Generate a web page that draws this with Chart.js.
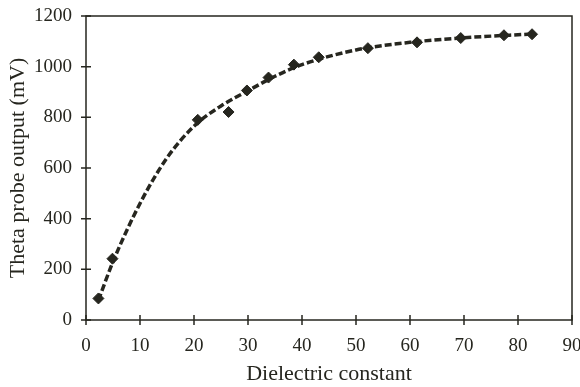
<!DOCTYPE html>
<html>
<head>
<meta charset="utf-8">
<script src="https://cdn.jsdelivr.net/npm/chart.js@4"></script>
<style>
  html, body { margin: 0; padding: 0; background: #fff; }
  #wrap { width: 580px; height: 387px; position: relative; }
</style>
</head>
<body>
<div id="wrap"><canvas id="chart"></canvas></div>
<script>
// measured points (dielectric constant, mV)
const pointX = [2.3, 4.9, 20.7, 26.4, 29.8, 33.8, 38.5, 43.1, 52.2, 61.3, 69.4, 77.4, 82.6];
const pointY = [85, 242, 790, 821, 906, 957, 1008, 1037, 1073, 1096, 1113, 1124, 1128];

// dashed fitted curve
const curveX = [2.3, 5, 10, 15, 20, 25, 30, 35, 40, 50, 60, 70, 80, 83];
const curveY = [78, 230, 460, 640, 765, 845, 905, 962, 1008, 1066, 1096, 1114, 1126, 1129];

const xTicks = [0, 10, 20, 30, 40, 50, 60, 70, 80, 90];

const ink = "#26261f";
const serif = "'Liberation Serif', 'DejaVu Serif', serif";

// ticks crossing both sides of the axes, plus frame
const crossTicks = {
  id: "crossTicks",
  afterDraw(chart) {
    const ctx = chart.ctx;
    const area = chart.chartArea;
    const xs = chart.scales.x, ys = chart.scales.y;
    ctx.save();
    ctx.strokeStyle = ink;
    ctx.lineWidth = 1.5;
    ctx.beginPath();
    xs.ticks.forEach(t => {
      const px = xs.getPixelForValue(t.value);
      ctx.moveTo(px, area.bottom - 5);
      ctx.lineTo(px, area.bottom + 5);
    });
    ys.ticks.forEach(t => {
      const py = ys.getPixelForValue(t.value);
      ctx.moveTo(area.left - 5, py);
      ctx.lineTo(area.left + 5, py);
    });
    ctx.stroke();
    ctx.strokeRect(area.left, area.top, area.right - area.left, area.bottom - area.top);
    ctx.restore();
  }
};

new Chart(document.getElementById("chart"), {
  type: "scatter",
  data: {
    datasets: [
      {
        type: "line",
        data: curveX.map((x, i) => ({ x: x, y: curveY[i] })),
        borderColor: ink,
        borderWidth: 3.5,
        borderDash: [7, 3],
        pointRadius: 0,
        cubicInterpolationMode: "monotone",
        fill: false,
      },
      {
        data: pointX.map((x, i) => ({ x: x, y: pointY[i] })),
        pointStyle: "rectRot",
        pointRadius: 5.5,
        backgroundColor: ink,
        borderColor: ink,
      }
    ]
  },
  options: {
    responsive: true,
    maintainAspectRatio: false,
    animation: false,
    layout: { padding: { top: 16, right: 8, left: 0, bottom: 0 } },
    plugins: { legend: { display: false }, tooltip: { enabled: false } },
    scales: {
      x: {
        type: "linear",
        min: 0,
        max: 90,
        afterBuildTicks: s => { s.ticks = xTicks.map(v => ({ value: v })); },
        afterFit: s => { s.height = 67; s.paddingLeft = 0; s.paddingRight = 0; },
        grid: { display: false, drawTicks: false },
        border: { display: false },
        ticks: { color: ink, font: { family: serif, size: 19 }, padding: 15, maxRotation: 0 },
        title: { display: true, text: "Dielectric constant", color: ink, font: { family: serif, size: 22 }, padding: { top: 0, bottom: 0 } }
      },
      y: {
        min: 0,
        max: 1200,
        afterFit: s => { s.width = 86; s.paddingTop = 0; s.paddingBottom = 0; },
        grid: { display: false, drawTicks: false },
        border: { display: false },
        ticks: {
          stepSize: 100,
          color: ink,
          font: { family: serif, size: 19 },
          padding: 14,
          callback: v => (v % 200 === 0 ? v : "")
        },
        title: { display: true, text: "Theta probe output (mV)", color: ink, font: { family: serif, size: 22 }, padding: { top: 5, bottom: 0 } }
      }
    }
  },
  plugins: [crossTicks]
});
</script>
</body>
</html>
